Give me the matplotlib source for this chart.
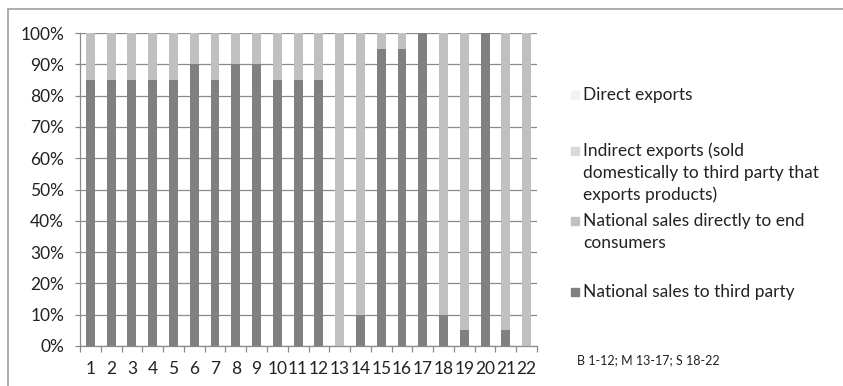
import numpy as np
import matplotlib
matplotlib.use("Agg")
import matplotlib.pyplot as plt
from matplotlib.patches import Rectangle

# data
cats = [str(i) for i in range(1, 23)]
third_party = [85, 85, 85, 85, 85, 90, 85, 90, 90, 85, 85, 85, 0, 10, 95, 95, 100, 10, 5, 100, 5, 0]
end_consumers = [100 - v for v in third_party]
indirect_exports = [0] * 22
direct_exports = [0] * 22
series_names = ["National sales to third party",
                "National sales directly to end consumers",
                "Indirect exports (sold domestically to third party that exports products)",
                "Direct exports"]
colors = ["#808080", "#c0c0c0", "#d9d9d9", "#f2f2f2"]
note = "B 1-12; M 13-17; S 18-22"

plt.rcParams['font.family'] = ['Lato', 'DejaVu Sans']
W, H = 843, 386
fig = plt.figure(figsize=(W / 100, H / 100), dpi=100)
ax = fig.add_axes([80 / W, 1 - 346 / H, (537 - 80) / W, (346 - 33) / H])

x = np.arange(len(cats))
bottom = np.zeros(len(cats))
for vals, c in zip([third_party, end_consumers, indirect_exports, direct_exports], colors):
    ax.bar(x, vals, 0.43, bottom=bottom, color=c, zorder=3)
    bottom += np.array(vals)

gc = "#8a8a8a"
ax.set_ylim(0, 100)
ax.set_xlim(-0.5, len(cats) - 0.5)
ax.set_yticks(np.arange(0, 101, 10))
ax.set_yticklabels([f"{v}%" for v in range(0, 101, 10)])
ax.yaxis.grid(True, color=gc, lw=0.9, zorder=0)
ax.set_xticks(x)
ax.set_xticklabels(cats)
ax.set_xticks(np.arange(-0.5, len(cats)), minor=True)
ax.tick_params(axis='x', which='major', length=0, pad=11, labelsize=12.5, colors="#222222")
ax.tick_params(axis='x', which='minor', length=4, color=gc, width=0.9)
ax.tick_params(axis='y', length=3.5, color=gc, width=0.9, pad=8, labelsize=12.5, labelcolor="#222222")
for s in ['top', 'right']:
    ax.spines[s].set_visible(False)
for s in ['left', 'bottom']:
    ax.spines[s].set_color(gc)
    ax.spines[s].set_linewidth(0.9)

# outer chart border (only top/left visible in crop)
fig.add_artist(Rectangle((8 / W, -0.1), 1.2, 1 - 9 / H + 0.1, transform=fig.transFigure,
                         fill=False, edgecolor="#a0a0a0", lw=1.2))

# legend drawn by hand
legend_lines = [
    ["Direct exports"],
    ["Indirect exports (sold", "domestically to third party that", "exports products)"],
    ["National sales directly to end", "consumers"],
    ["National sales to third party"],
]
legend_y = [95, 151, 221, 292]
legend_col = [colors[3], colors[2], colors[1], colors[0]]
for lines, y0, c in zip(legend_lines, legend_y, legend_col):
    fig.add_artist(Rectangle((571 / W, 1 - (y0 + 4) / H), 8 / W, 8 / H,
                             transform=fig.transFigure, color=c))
    for i, t in enumerate(lines):
        fig.text(583 / W, 1 - (y0 + i * 22) / H, t, fontsize=12.5, va='center',
                 ha='left', color="#222222")

fig.text(577 / W, 1 - 360 / H, note, fontsize=9, va='center', ha='left', color="#222222")

fig.savefig("out.png", dpi=100)
